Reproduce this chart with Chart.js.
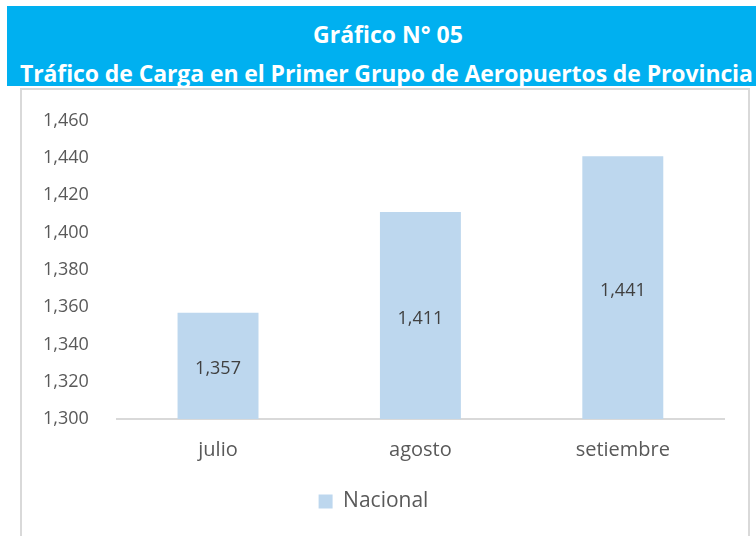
<!DOCTYPE html>
<html>
<head>
<meta charset="utf-8">
<script src="https://cdn.jsdelivr.net/npm/chart.js@4/dist/chart.umd.min.js"></script>
<style>
  body { margin: 0; background: #ffffff; width: 756px; height: 536px; overflow: hidden; position: relative; }
  #cabecera {
    position: absolute; left: 7px; top: 6px; width: 749px; height: 80px;
    background: #00b0f0; color: #ffffff; font-family: "Open Sans", sans-serif; font-weight: bold;
    white-space: nowrap; overflow: hidden;
  }
  #cabecera .l1 { position: absolute; top: 12px; left: 0; width: 762px; text-align: center; font-size: 23px; }
  #cabecera .l2 { position: absolute; top: 51px; left: 13px; font-size: 23px; letter-spacing: -0.1px; }
  #caja {
    position: absolute; left: 20px; top: 88px; width: 726px; height: 448px;
    border: 2px solid #d9d9d9; border-bottom: none;
  }
</style>
</head>
<body>
<div id="cabecera">
  <div class="l1">Gráfico N° 05</div>
  <div class="l2">Tráfico de Carga en el Primer Grupo de Aeropuertos de Provincia</div>
</div>
<div id="caja">
  <canvas id="graficoCarga" width="726" height="446"></canvas>
</div>
<script>
// Datos del gráfico
const meses = ['julio', 'agosto', 'setiembre'];
const cargaNacional = [1357, 1411, 1441];
const ejeMin = 1300;
const ejeMax = 1460;
const paso = 20;

function formatoMiles(v) {
    return String(v).replace(/\B(?=(\d{3})+(?!\d))/g, ',');
}

// Etiquetas de valor en el centro de cada barra
const etiquetasBarras = {
    id: 'etiquetasBarras',
    afterDraw(chart) {
        const ctx = chart.ctx;
        const escalaX = chart.scales.x;
        const escalaY = chart.scales.y;
        ctx.save();
        ctx.font = '18px "Open Sans", sans-serif';
        ctx.fillStyle = '#404040';
        ctx.textAlign = 'center';
        ctx.textBaseline = 'middle';
        cargaNacional.forEach(function(valor, i) {
            const x = escalaX.getPixelForValue(i);
            const centro = (escalaY.getPixelForValue(valor) + escalaY.bottom) / 2 + 3;
            ctx.fillText(formatoMiles(valor), x, centro);
        });
        ctx.restore();
    }
};

const config = {
    type: 'bar',
    data: {
        labels: meses,
        datasets: [{
            label: 'Nacional',
            data: cargaNacional,
            backgroundColor: '#bdd7ee',
            borderWidth: 0,
            categoryPercentage: 0.8,
            barPercentage: 0.5
        }]
    },
    options: {
        responsive: false,
        animation: false,
        layout: { padding: { top: 20, right: 24, left: 1, bottom: 14 } },
        plugins: {
            legend: {
                position: 'bottom',
                labels: {
                    boxWidth: 14,
                    boxHeight: 14,
                    color: '#595959',
                    font: { family: '"Open Sans", sans-serif', size: 21 },
                    padding: 18
                }
            },
            tooltip: { enabled: false }
        },
        scales: {
            x: {
                grid: { display: false },
                border: { color: '#d9d9d9', width: 2 },
                ticks: {
                    color: '#595959',
                    font: { family: '"Open Sans", sans-serif', size: 20 },
                    padding: 11
                }
            },
            y: {
                min: ejeMin,
                max: ejeMax,
                grid: { display: false },
                border: { display: false },
                ticks: {
                    stepSize: paso,
                    color: '#595959',
                    font: { family: '"Open Sans", sans-serif', size: 18 },
                    padding: 20,
                    callback: function(v) { return formatoMiles(v); }
                }
            }
        }
    },
    plugins: [etiquetasBarras]
};

new Chart(document.getElementById('graficoCarga'), config);
</script>
</body>
</html>
